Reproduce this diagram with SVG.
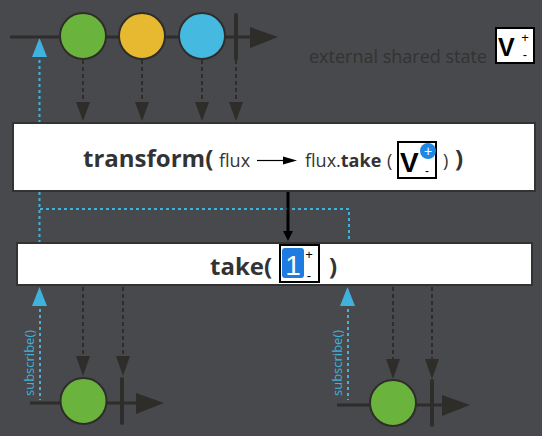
<svg xmlns="http://www.w3.org/2000/svg" width="542" height="436" viewBox="0 0 542 436">
<style>
.tl{stroke:#2f2d2a;stroke-width:3;fill:none}
.bar{stroke:#2f2d2a;stroke-width:4;stroke-linecap:round}
.ah{fill:#2f2d2a}
.dash{stroke:#2f2d2a;stroke-width:2;stroke-dasharray:4 3;fill:none}
.blue{stroke:#3fb3dd;stroke-width:2;stroke-dasharray:3 3;fill:none}
.bhead{fill:#3fb3dd}
.mb{stroke:#2f2d2a;stroke-width:2}
.box{fill:#fff;stroke:#333;stroke-width:2}
.t{font-family:"Open Sans","Liberation Sans",sans-serif;fill:#333}
.sub{font-family:"Open Sans","Liberation Sans",sans-serif;fill:#3fb3dd;font-size:13px}
.b{font-weight:bold}
.s{font-family:"Liberation Sans",Arial,sans-serif}
</style>
<rect width="542" height="436" fill="#48494c"/>

<g id="connectors">
  <path class="dash" d="M83,60V103M142,60V103M202,60V103M236,60V103"/>
  <polygon class="ah" points="76,102 90,102 83,121"/>
  <polygon class="ah" points="135,102 149,102 142,121"/>
  <polygon class="ah" points="195,102 209,102 202,121"/>
  <polygon class="ah" points="229,102 243,102 236,121"/>
  <path class="blue" d="M39.5,60V243M40,209H349V243"/>
  <polygon class="bhead" points="32,57 47,57 39.5,38"/>
  <path class="dash" d="M83,287V357M123,287V357M393,287V360M432,287V360"/>
  <polygon class="ah" points="76,356 90,356 83,376"/>
  <polygon class="ah" points="116,356 130,356 123,376"/>
  <polygon class="ah" points="386,359 400,359 393,379"/>
  <polygon class="ah" points="425,359 439,359 432,379"/>
  <path class="blue" d="M40,309V400M348,309V400"/>
  <polygon class="bhead" points="32,306 47,306 39.5,287"/>
  <polygon class="bhead" points="340,306 355,306 347.5,287"/>
  <path d="M288,191V233" stroke="#000" stroke-width="3"/>
  <polygon points="283,231 293,231 288,241" fill="#000"/>
</g>

<g id="top-timeline">
  <line class="tl" x1="10" y1="37" x2="252" y2="37"/>
  <polygon class="ah" points="250,27 278,37 250,48"/>
  <line class="bar" x1="236" y1="15" x2="236" y2="59"/>
  <circle cx="83" cy="36" r="23" fill="#6ab43e" class="mb"/>
  <circle cx="142" cy="36" r="23" fill="#e6b930" class="mb"/>
  <circle cx="202" cy="36" r="23" fill="#45b9e0" class="mb"/>
</g>

<g id="external-state">
  <text class="t" x="309" y="63" font-size="18">external shared state</text>
  <rect x="496" y="28" width="38" height="35" fill="#fff" stroke="#000" stroke-width="2"/>
  <text class="s b" x="498" y="56" font-size="25" fill="#000">V</text>
  <text class="s" x="525" y="42" font-size="13" fill="#000" text-anchor="middle">+</text>
  <text class="s" x="525" y="59" font-size="13" fill="#000" text-anchor="middle">-</text>
</g>

<g id="transform">
  <rect class="box" x="13" y="123" width="522" height="68"/>
  <text class="t b" x="83" y="167" font-size="24">transform(</text>
  <text class="t" x="219" y="167" font-size="18">flux</text>
  <line x1="257" y1="160.5" x2="285" y2="160.5" stroke="#000" stroke-width="1.2"/>
  <polygon points="283,156.5 297,160.5 283,164.5" fill="#000"/>
  <text class="t" x="305" y="167" font-size="18">flux.<tspan class="b">take</tspan></text>
  <text class="t" x="387" y="167" font-size="18">(</text>
  <rect x="398" y="142" width="38" height="36" fill="#fff" stroke="#000" stroke-width="2"/>
  <text class="s b" x="400" y="172" font-size="28" fill="#000">V</text>
  <circle cx="428" cy="151" r="8" fill="#1e88e5"/>
  <text class="s" x="428" y="156" font-size="14" fill="#fff" text-anchor="middle">+</text>
  <text class="s" x="427" y="175" font-size="12" fill="#000" text-anchor="middle">-</text>
  <text class="t" x="443" y="167" font-size="18">)</text>
  <text class="t b" x="455" y="167" font-size="24">)</text>
</g>

<g id="take">
  <rect class="box" x="17" y="243" width="515" height="42"/>
  <text class="t b" x="210" y="275" font-size="24">take(</text>
  <rect x="280" y="245" width="39" height="37" fill="#fff" stroke="#000" stroke-width="2"/>
  <rect x="282" y="248" width="22" height="30" rx="3" fill="#1e7be0"/>
  <text class="s" x="293" y="275" font-size="28" fill="#fff" text-anchor="middle">1</text>
  <text class="s" x="309" y="259" font-size="13" fill="#000" text-anchor="middle">+</text>
  <text class="s" x="309" y="280" font-size="13" fill="#000" text-anchor="middle">-</text>
  <text class="t b" x="329" y="275" font-size="24">)</text>
</g>

<g id="bottom-left">
  <line class="tl" x1="30" y1="403" x2="140" y2="403"/>
  <polygon class="ah" points="136,393 164,403 136,414"/>
  <line class="bar" x1="122" y1="379" x2="122" y2="423"/>
  <circle cx="83.5" cy="401" r="23" fill="#6ab43e" class="mb"/>
  <text class="sub" transform="translate(34,396) rotate(-90)">subscribe()</text>
</g>

<g id="bottom-right">
  <line class="tl" x1="337" y1="405" x2="446" y2="405"/>
  <polygon class="ah" points="442,395 470,405 442,416"/>
  <line class="bar" x1="432" y1="381" x2="432" y2="425"/>
  <circle cx="393" cy="403" r="23" fill="#6ab43e" class="mb"/>
  <text class="sub" transform="translate(342,396) rotate(-90)">subscribe()</text>
</g>
</svg>
